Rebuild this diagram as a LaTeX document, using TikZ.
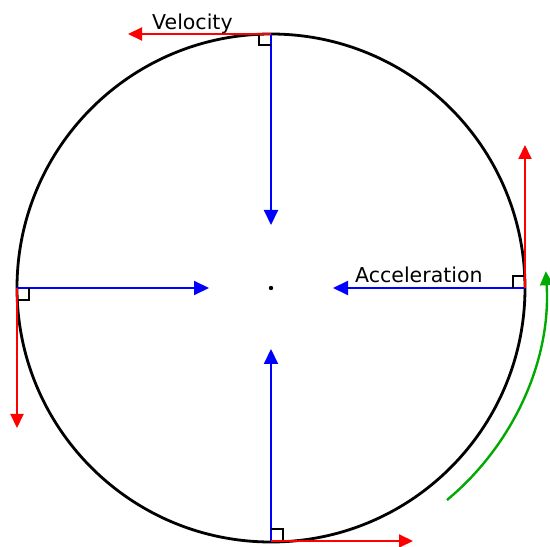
\documentclass[tikz,border=0pt]{standalone}
\usepackage{fontspec}
\setmainfont{DejaVu Sans}
\usetikzlibrary{arrows.meta}
\definecolor{velred}{RGB}{255,0,0}
\definecolor{accblue}{RGB}{0,0,255}
\definecolor{dirgreen}{RGB}{0,170,0}
\begin{document}
\begin{tikzpicture}[x=1pt,y=1pt,
  vel/.style={draw=velred,line width=2pt,-{Triangle[length=14pt,width=13pt]}},
  acc/.style={draw=accblue,line width=2pt,-{Triangle[length=15pt,width=14pt]}},
  rightangle/.style={draw=black,line width=1.8pt},
  lbl/.style={inner sep=0pt,anchor=base west,font=\fontsize{20.5}{23}\selectfont}]
\useasboundingbox (0,0) rectangle (550,547);
% key points
\coordinate (C) at (271,259);
\coordinate (T) at (271,513);
\coordinate (R) at (525,259);
\coordinate (B) at (271,6);
\coordinate (L) at (17,259);
% velocity tips
\coordinate (vT) at (128,513);
\coordinate (vR) at (525,402);
\coordinate (vB) at (413,6);
\coordinate (vL) at (17,119);
% acceleration tips
\coordinate (aT) at (271,322);
\coordinate (aL) at (209,259);
\coordinate (aR) at (333,259);
\coordinate (aB) at (271,198);
% circle
\draw[line width=2.8pt] (C) circle[radius=254pt];
\fill (C) circle[radius=2.2pt];
% acceleration arrows
\draw[acc] (T) -- (aT);
\draw[acc] (L) -- (aL);
\draw[acc] (R) -- (aR);
\draw[acc] (B) -- (aB);
% right angle marks
\draw[rightangle] (259,513) -- (259,502) -- (271,502);
\draw[rightangle] (513,259) -- (513,271) -- (525,271);
\draw[rightangle] (271,18) -- (283,18) -- (283,6);
\draw[rightangle] (17,247) -- (29,247) -- (29,259);
% velocity arrows
\draw[vel] (T) -- (vT);
\draw[vel] (R) -- (vR);
\draw[vel] (B) -- (vB);
\draw[vel] (L) -- (vL);
% direction of motion
\coordinate (g0) at (447,47);
\draw[draw=dirgreen,line width=2.4pt,-{Triangle[length=14pt,width=13pt]}] (g0) arc[start angle=-50.3, end angle=3.6, radius=275pt];
% labels
\node[lbl] (velo) at (152,517) {Velocity};
\node[lbl] (accl) at (355,264) {Acceleration};
\end{tikzpicture}
\end{document}
